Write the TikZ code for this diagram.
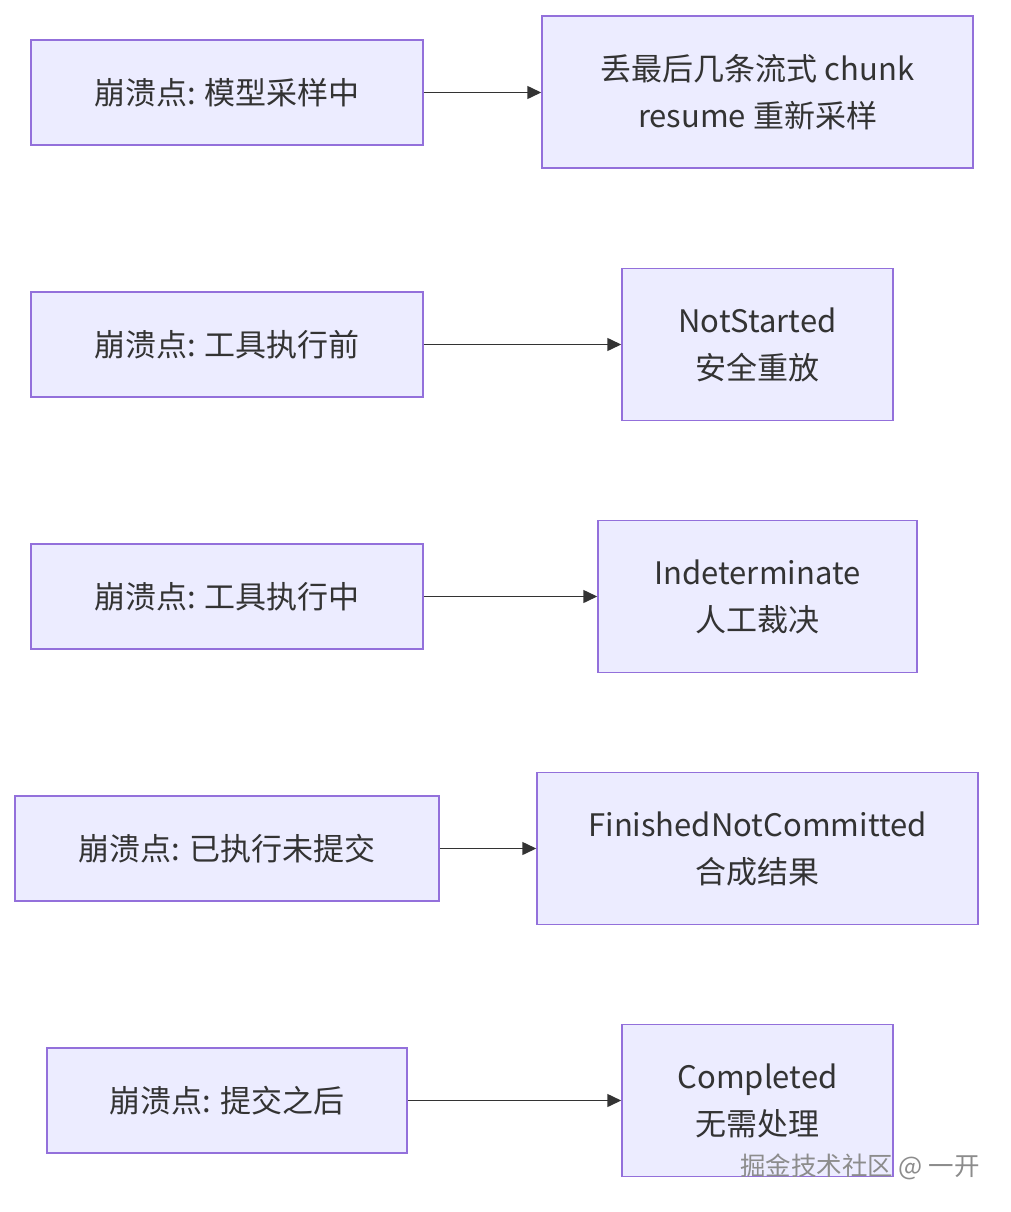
\documentclass[tikz,border=0pt]{standalone}
\usepackage{fontspec}
\setmainfont{Noto Sans CJK SC}
\usetikzlibrary{arrows.meta}
\definecolor{nodefill}{HTML}{ECECFF}
\definecolor{nodeline}{HTML}{9370DB}
\definecolor{ink}{HTML}{333333}
\tikzset{
  box/.style={draw=nodeline, fill=nodefill, line width=1.5pt, inner sep=0pt, text=ink,
    font=\fontsize{31}{47}\selectfont, align=center},
  conn/.style={draw=ink, line width=1.5pt, -{Triangle[length=14pt,width=13pt]}}
}
\begin{document}
\begin{tikzpicture}[x=1pt,y=-1pt]
\useasboundingbox (0,0) rectangle (1010,1212);
% left nodes
\node[box, minimum width=392pt, minimum height=105pt] (l1) at (227,92.5) {崩溃点: 模型采样中};
\node[box, minimum width=392pt, minimum height=105pt] (l2) at (227,344.5) {崩溃点: 工具执行前};
\node[box, minimum width=392pt, minimum height=105pt] (l3) at (227,596.5) {崩溃点: 工具执行中};
\node[box, minimum width=424pt, minimum height=105pt] (l4) at (227,848.5) {崩溃点: 已执行未提交};
\node[box, minimum width=360pt, minimum height=105pt] (l5) at (227,1100.5) {崩溃点: 提交之后};
% right nodes
\node[box, minimum width=431pt, minimum height=152pt] (r1) at (757.5,92) {丢最后几条流式 chunk\\resume 重新采样};
\node[box, minimum width=271pt, minimum height=152pt] (r2) at (757.5,344.5) {NotStarted\\安全重放};
\node[box, minimum width=319pt, minimum height=152pt] (r3) at (757.5,596.5) {Indeterminate\\人工裁决};
\node[box, minimum width=441pt, minimum height=152pt] (r4) at (757.5,848.5) {FinishedNotCommitted\\合成结果};
\node[box, minimum width=271pt, minimum height=152pt] (r5) at (757.5,1100.5) {Completed\\无需处理};
% connectors
\draw[conn] (l1.east) -- (r1.west |- l1.east);
\draw[conn] (l2.east) -- (r2.west |- l2.east);
\draw[conn] (l3.east) -- (r3.west |- l3.east);
\draw[conn] (l4.east) -- (r4.west |- l4.east);
\draw[conn] (l5.east) -- (r5.west |- l5.east);
% watermark
\node[text=black!45, font=\fontsize{25.5}{28}\selectfont, anchor=east, inner sep=0pt] (wm) at (980,1167) {掘金技术社区 @ 一开};
\end{tikzpicture}
\end{document}
